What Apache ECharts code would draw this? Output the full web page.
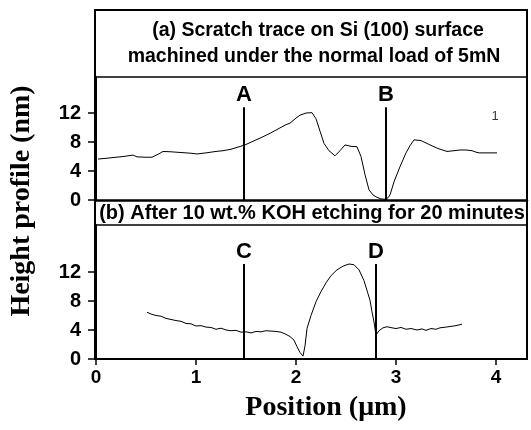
<!DOCTYPE html>
<html><head><meta charset="utf-8">
<script src="https://cdn.jsdelivr.net/npm/echarts@6/dist/echarts.min.js"></script>
<style>html,body{margin:0;padding:0;background:#fff}#c{width:531px;height:430px}</style>
</head><body><div id="c"></div>
<script>
// Panel (a): scratch trace
const xA = [0.02,0.1,0.2,0.24,0.3,0.37,0.41,0.5,0.56,0.62,0.67,0.75,0.85,0.95,1.01,1.1,1.2,1.27,1.35,1.42,1.49,1.57,1.65,1.74,1.82,1.9,1.94,2.0,2.04,2.1,2.16,2.2,2.24,2.28,2.33,2.39,2.44,2.49,2.55,2.61,2.65,2.69,2.73,2.77,2.81,2.85,2.89,2.92,2.94,2.98,3.04,3.1,3.14,3.18,3.25,3.34,3.42,3.51,3.58,3.64,3.7,3.76,3.8,3.83,3.9,4.01];
const hA = [5.65,5.75,5.9,5.95,6.05,6.2,5.95,5.9,5.9,6.3,6.7,6.65,6.55,6.45,6.35,6.5,6.7,6.8,7.0,7.3,7.6,8.1,8.6,9.2,9.8,10.4,10.6,11.3,11.7,12.0,12.05,11.2,9.5,7.8,6.8,6.1,6.8,7.6,7.4,7.35,6.0,3.5,1.4,0.7,0.37,0.15,0.1,0.3,0.7,2.5,4.6,6.5,7.5,8.3,8.2,7.6,7.1,6.7,6.8,6.9,6.9,6.8,6.6,6.5,6.5,6.5];
// Panel (b): after KOH etching
const xB = [0.51,0.55,0.6,0.65,0.7,0.75,0.8,0.85,0.9,0.95,1.0,1.05,1.1,1.15,1.2,1.25,1.3,1.35,1.4,1.45,1.5,1.55,1.6,1.65,1.7,1.75,1.8,1.85,1.9,1.94,1.98,2.01,2.04,2.07,2.09,2.11,2.15,2.2,2.25,2.3,2.35,2.41,2.47,2.53,2.58,2.63,2.68,2.72,2.74,2.76,2.78,2.8,2.83,2.87,2.91,2.96,3.0,3.05,3.1,3.15,3.21,3.26,3.3,3.35,3.4,3.44,3.5,3.55,3.6,3.66];
const hB = [6.45,6.2,6.0,5.9,5.6,5.45,5.3,5.2,4.9,4.85,4.55,4.6,4.4,4.35,4.1,4.25,4.0,3.9,3.95,3.7,3.75,3.6,3.8,3.75,3.9,3.85,3.8,3.7,3.4,3.1,2.6,1.7,0.9,0.4,1.8,4.2,6.0,7.9,9.3,10.5,11.5,12.3,12.8,13.1,13.0,12.3,10.8,9.0,8.1,6.5,5.1,3.3,3.9,4.3,4.45,4.3,4.2,4.35,4.1,4.2,4.0,4.15,3.95,4.2,4.1,4.3,4.4,4.5,4.6,4.8];
// Marker lines: [label, position, top]
const markersA = [['A',1.48,12.8],['B',2.9,12.8]];
const markersB = [['C',1.48,13.1],['D',2.8,13.1]];
const yTicks = [0,4,8,12];
const xTicks = [0,1,2,3,4];
const titleA = ['(a) Scratch trace on Si (100) surface','machined under the normal load of 5mN'];
const titleB = '(b) After 10 wt.% KOH etching for 20 minutes';
const yName = 'Height profile (nm)';
const xName = 'Position (\u03bcm)';

const sans = 'Liberation Sans, Arial, sans-serif';
const serif = 'Liberation Serif, Times New Roman, serif';
const chart = echarts.init(document.getElementById('c'));

function zip(xs, ys){ return xs.map((x,i)=>[x,ys[i]]); }
function markerSeries(m, idx){
  return m.map(([lab,x,top]) => ({
    type:'line', xAxisIndex:idx, yAxisIndex:idx, symbol:'circle', symbolSize:0, showSymbol:true, silent:true,
    lineStyle:{color:'#000',width:2}, itemStyle:{color:'#000'},
    label:{show:false},
    data:[{value:[x,0]},{value:[x,top],label:{show:true,position:'top',formatter:lab,distance:1,
      fontFamily:sans,fontWeight:'bold',fontSize:22,color:'#000'}}]
  }));
}
const yAxisCommon = {
  type:'value', min:0, interval:4,
  axisLine:{show:true,lineStyle:{color:'#000',width:2}},
  axisTick:{show:true,length:8,lineStyle:{color:'#000',width:1.5},customValues:yTicks},
  axisLabel:{fontFamily:sans,fontWeight:'bold',fontSize:20,color:'#000',margin:15,customValues:yTicks},
  splitLine:{show:false}
};
chart.setOption({
  animation:false,
  grid:[
    {left:96,right:4,top:77,height:123},
    {left:96,right:4,top:225,height:134}
  ],
  xAxis:[
    {gridIndex:0,type:'value',min:0,max:4.31,axisLine:{lineStyle:{color:'#000',width:2.5}},
     axisTick:{show:false},axisLabel:{show:false},splitLine:{show:false}},
    {gridIndex:1,type:'value',min:0,max:4.31,interval:1,axisLine:{lineStyle:{color:'#000',width:2}},
     axisTick:{show:true,length:6,lineStyle:{color:'#000',width:1.5},customValues:xTicks},
     axisLabel:{fontFamily:sans,fontWeight:'bold',fontSize:19,color:'#000',margin:9,customValues:xTicks},
     splitLine:{show:false}}
  ],
  yAxis:[
    Object.assign({gridIndex:0,max:16.97},yAxisCommon),
    Object.assign({gridIndex:1,max:18.48},yAxisCommon)
  ],
  series:[
    {type:'line',xAxisIndex:0,yAxisIndex:0,symbol:'none',data:zip(xA,hA),lineStyle:{color:'#000',width:1}},
    {type:'line',xAxisIndex:1,yAxisIndex:1,symbol:'none',data:zip(xB,hB),lineStyle:{color:'#000',width:1}},
    ...markerSeries(markersA,0),
    ...markerSeries(markersB,1),
    {type:'scatter',xAxisIndex:0,yAxisIndex:0,symbolSize:0,data:[[3.99,11.6]],
     label:{show:true,position:'inside',formatter:'1',fontFamily:sans,fontSize:13,color:'#000'}}
  ],
  graphic:[
    {type:'rect',shape:{x:95,y:10,width:432,height:349},style:{fill:'none',stroke:'#000',lineWidth:2},z:10},
    {type:'line',shape:{x1:95,y1:77,x2:527,y2:77},style:{stroke:'#000',lineWidth:1.5},z:10},
    {type:'line',shape:{x1:95,y1:225,x2:527,y2:225},style:{stroke:'#000',lineWidth:1.5},z:10},
    {type:'text',style:{text:titleA[0],x:318,y:31,font:'bold 19.5px '+sans,fill:'#000',textAlign:'center',textVerticalAlign:'middle'}},
    {type:'text',style:{text:titleA[1],x:314,y:57,font:'bold 19.5px '+sans,fill:'#000',textAlign:'center',textVerticalAlign:'middle'}},
    {type:'text',style:{text:titleB,x:312,y:213,font:'bold 20px '+sans,fill:'#000',textAlign:'center',textVerticalAlign:'middle'}},
    {type:'text',x:22,y:201,rotation:Math.PI/2,style:{text:yName,x:0,y:0,font:'bold 28px '+serif,fill:'#000',textAlign:'center',textVerticalAlign:'middle'}},
    {type:'text',style:{text:xName,x:326,y:408,font:'bold 28px '+serif,fill:'#000',textAlign:'center',textVerticalAlign:'middle'}}
  ]
});
</script></body></html>
